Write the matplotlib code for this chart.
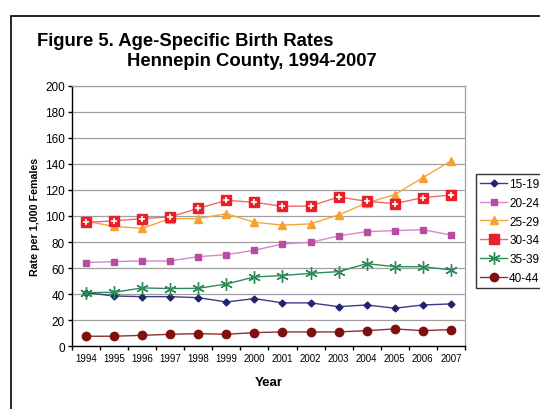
import matplotlib.pyplot as plt
from matplotlib.patches import Rectangle

years = ['1994', '1995', '1996', '1997', '1998', '1999', '2000',
         '2001', '2002', '2003', '2004', '2005', '2006', '2007']

r15_19 = [41.2, 38.6, 38.1, 38.1, 37.3, 34.0, 36.6, 33.3, 33.3, 30.4, 31.7, 29.2, 31.7, 32.5]
r20_24 = [64.2, 65.0, 65.5, 65.5, 68.8, 70.3, 73.7, 78.5, 79.8, 84.7, 88.0, 88.8, 89.5, 85.4]
r25_29 = [96.0, 92.0, 90.5, 98.0, 98.0, 101.8, 95.2, 93.0, 93.9, 100.8, 110.0, 116.4, 129.4, 142.2]
r30_34 = [95.2, 96.2, 98.0, 99.3, 105.9, 112.0, 110.5, 107.4, 107.7, 114.6, 111.3, 109.5, 114.1, 116.1]
r35_39 = [41.2, 41.4, 44.8, 44.3, 44.5, 47.8, 53.2, 54.3, 56.0, 57.3, 63.4, 61.1, 61.1, 58.6]
r40_44 = [7.7, 7.7, 8.4, 9.2, 9.7, 9.2, 10.5, 11.0, 11.0, 11.0, 12.0, 13.3, 12.0, 12.8]

plt.rcParams['font.family'] = ['Liberation Sans', 'DejaVu Sans']

fig = plt.figure(figsize=(5.4, 4.1), dpi=100)
ax = fig.add_axes([0.1333, 0.153, 0.7277, 0.6355])

# frame around the whole chart (runs off right and bottom edges)
fig.patches.append(Rectangle((11 / 540, -0.1), 1.2, 1 - 17 / 410 + 0.1,
                             transform=fig.transFigure, fill=False,
                             edgecolor='black', linewidth=1.2))

x = list(range(len(years)))
ax.plot(x, r15_19, '-', color='#3A3A8C', lw=1, marker='D', ms=3.5,
        mfc='#232370', mec='#232370', label='15-19')
ax.plot(x, r20_24, '-', color='#DA85C8', lw=1, marker='s', ms=4.5,
        mfc='#B84BA2', mec='#B84BA2', label='20-24')
ax.plot(x, r25_29, '-', color='#F8A43A', lw=1, marker='^', ms=6,
        mfc='#F7A030', mec='#F7A030', label='25-29')
ax.plot(x, r30_34, '-', color='#F06A6A', lw=1, marker='s', ms=6.5,
        mfc='#E8202A', mec='#E8202A', label='30-34')
ax.plot(x, r30_34, ' ', marker='+', ms=4, mec='white', mew=1.2)
ax.plot(x, r35_39, '-', color='#2E8B57', lw=1, marker=(6, 2, 0), ms=9,
        mec='#2E8B57', mew=1, label='35-39')
ax.plot(x, r40_44, '-', color='#8B3030', lw=1, marker='o', ms=6,
        mfc='#7F1010', mec='#7F1010', label='40-44')

ax.set_xlim(-0.5, 13.5)
ax.set_ylim(0, 200)
ax.set_yticks(range(0, 201, 20))
ax.set_xticks(x)
ax.set_xticklabels(years)
ax.set_xticks([i - 0.5 for i in range(15)], minor=True)
ax.tick_params(axis='x', which='major', length=0, labelsize=7, pad=5)
ax.tick_params(axis='x', which='minor', length=3, direction='out', width=1)
ax.tick_params(axis='y', length=3, direction='out', labelsize=8.5, width=1, pad=2)
ax.grid(axis='y', color='#A0A0A0', lw=0.9)
ax.set_axisbelow(True)
for s in ['top', 'right']:
    ax.spines[s].set_color('#A0A0A0')
    ax.spines[s].set_linewidth(0.9)
for s in ['left', 'bottom']:
    ax.spines[s].set_linewidth(1)

ax.set_xlabel('Year', fontsize=9.5, fontweight='bold', labelpad=9)
ax.set_ylabel('Rate per 1,000 Females', fontsize=7.7, fontweight='bold', labelpad=4)

fig.text(37 / 540, 1 - 41 / 410, 'Figure 5. Age-Specific Birth Rates',
         fontsize=13.3, fontweight='bold', va='center')
fig.text(127 / 540, 1 - 62 / 410, 'Hennepin County, 1994-2007',
         fontsize=13.3, fontweight='bold', va='center')

handles, labels = ax.get_legend_handles_labels()
leg = fig.legend(handles, labels, loc='upper left',
                 bbox_to_anchor=(476 / 540, 1 - 175 / 410),
                 fontsize=8.5, frameon=True, fancybox=False, handlelength=2.3,
                 labelspacing=0.57, borderpad=0.35, handletextpad=0.15,
                 borderaxespad=0)
leg.get_frame().set_edgecolor('black')
leg.get_frame().set_linewidth(1)

fig.savefig('out.png', dpi=100)
